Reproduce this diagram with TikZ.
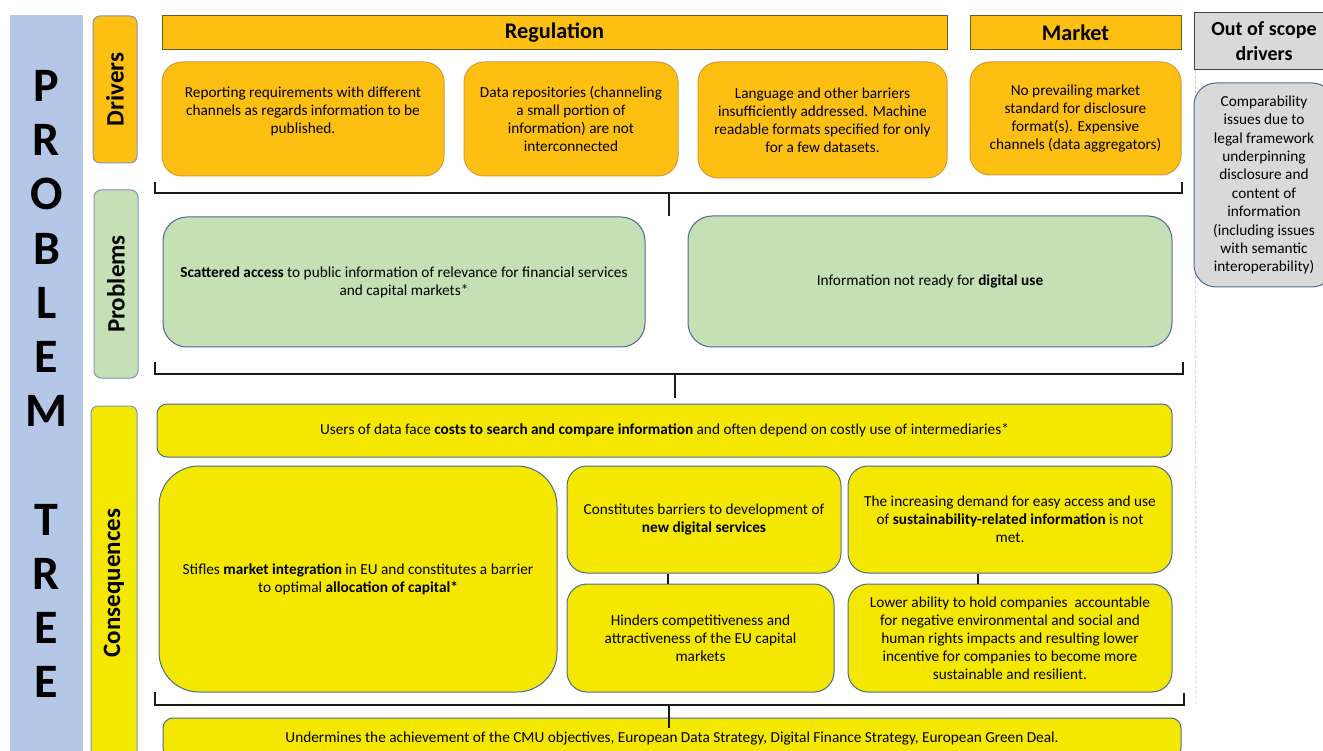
\documentclass[tikz,border=0pt]{standalone}
\usepackage{fontspec}
\setmainfont{Carlito}
\usetikzlibrary{positioning}

\definecolor{bandblue}{HTML}{B4C7E7}
\definecolor{drvorange}{HTML}{FDC012}
\definecolor{drvedge}{HTML}{D49A3A}
\definecolor{hdredge}{HTML}{6E5A22}
\definecolor{probgreen}{HTML}{C5E0B4}
\definecolor{consyellow}{HTML}{F5E800}
\definecolor{boxedge}{HTML}{4A6B94}
\definecolor{lbledge}{HTML}{8497B0}
\definecolor{scopegray}{HTML}{D9D9D9}
\definecolor{dotgray}{HTML}{C8C8C8}

\newcommand{\bodyfont}{\fontsize{15.3}{18}\selectfont}

\tikzset{
  hdr/.style={draw=hdredge, fill=drvorange, line width=1pt, inner sep=0pt,
    font=\fontsize{22.3}{24}\selectfont\bfseries},
  sidelbl/.style={draw=lbledge, fill=#1, line width=1pt, rounded corners=7pt,
    rotate=90, inner sep=0pt, font=\fontsize{25}{28}\selectfont\bfseries},
  drvbox/.style={draw=drvedge, fill=drvorange, line width=1pt, rounded corners=20pt,
    align=center, inner sep=0pt, font=\bodyfont},
  probbox/.style={draw=boxedge, fill=probgreen, line width=1pt, rounded corners=24pt,
    align=center, inner sep=0pt, font=\bodyfont},
  consbox/.style={draw=boxedge, fill=consyellow, line width=1pt, rounded corners=#1,
    align=center, inner sep=0pt, font=\bodyfont},
  bracket/.style={draw=black!90, line width=2.3pt},
  link/.style={draw=black!90, line width=2pt},
}

\begin{document}
\begin{tikzpicture}[x=1pt,y=-1pt]
\useasboundingbox (0,0) rectangle (1323,751);

% left band
\fill[bandblue] (10,15) rectangle (83,751);
\node[font=\fontsize{48}{54.2}\selectfont\bfseries, align=center, inner sep=0pt] (title) at (46.5,384)
  {P\\R\\O\\B\\L\\E\\M\\[54.2pt]T\\R\\E\\E};

% row labels
\node[sidelbl=drvorange, minimum width=147pt, minimum height=44pt] (lbldrv) at (115,89.5) {Drivers};
\node[sidelbl=probgreen, minimum width=188pt, minimum height=44pt] (lblprob) at (116,284) {Problems};
\node[sidelbl=consyellow, minimum width=354pt, minimum height=46pt] (lblcons) at (114,583) {Consequences};

% headers
\node[hdr, minimum width=785pt, minimum height=34pt] (reg) at (554.5,33) {Regulation};
\node[hdr, minimum width=211pt, minimum height=34pt] (mkt) at (1075.5,33) {Market};
\node[draw=black!75, fill=scopegray, line width=1pt, minimum width=140pt, minimum height=57pt,
  align=center, inner sep=0pt, font=\fontsize{20}{25}\selectfont\bfseries] (scope) at (1264,41.5)
  {Out of scope\\drivers};

% out of scope column
\draw[dotgray, densely dashed, line width=0.8pt] (scope.south west) ++(2,0) -- (1196,705);
\node[draw=boxedge, fill=scopegray, line width=1pt, rounded corners=22pt, minimum width=140pt,
  minimum height=204pt, align=center, inner sep=0pt, font=\fontsize{15.3}{18.4}\selectfont]
  (compar) at (1264,185)
  {Comparability\\issues due to\\legal framework\\underpinning\\disclosure and\\content of\\information\\(including issues\\with semantic\\interoperability)};

% drivers
\node[drvbox, minimum width=282pt, minimum height=114pt] (d1) at (303,119)
  {Reporting requirements with different\\channels as regards information to be\\published.\\~};
\node[drvbox, minimum width=214pt, minimum height=114pt] (d2) at (571,119)
  {Data repositories (channeling\\a small portion of\\information) are not\\interconnected};
\node[drvbox, minimum width=249pt, minimum height=116pt] (d3) at (822.5,120)
  {Language and other barriers\\insufficiently addressed. Machine\\readable formats specified for only\\for a few datasets.};
\node[drvbox, minimum width=211pt, minimum height=113pt] (d4) at (1075.5,118.5)
  {No prevailing market\\standard for disclosure\\format(s). Expensive\\channels (data aggregators)};

% bracket drivers -> problems
\coordinate (brA) at (669,193);
\coordinate (brAend) at (669,216);
\draw[bracket] (155,182) -- (155,193) -- (1182,193) -- (1182,182);
\draw[bracket] (brA) -- (brAend);

% problems
\node[probbox, minimum width=482pt, minimum height=130pt] (p1) at (404,282)
  {\textbf{Scattered access} to public information of relevance for financial services\\and capital markets*};
\node[probbox, minimum width=484pt, minimum height=131pt] (p2) at (930,281.5)
  {Information not ready for \textbf{digital use}};

% bracket problems -> consequences
\coordinate (brB) at (675,374);
\coordinate (brBend) at (675,398);
\draw[bracket] (155,362) -- (155,374) -- (1183,374) -- (1183,362);
\draw[bracket] (brB) -- (brBend);

% consequences
\node[consbox=10pt, minimum width=1015pt, minimum height=53pt] (c0) at (664.5,430.5)
  {Users of data face \textbf{costs to search and compare information} and often depend on costly use of intermediaries*};
\node[consbox=40pt, minimum width=398pt, minimum height=226pt] (c1) at (358,579)
  {Stifles \textbf{market integration} in EU and constitutes a barrier\\to optimal \textbf{allocation of capital*}};
\node[consbox=20pt, minimum width=274pt, minimum height=107pt] (c2) at (704,519.5)
  {Constitutes barriers to development of\\\textbf{new digital services}};
\node[consbox=20pt, minimum width=324pt, minimum height=107pt] (c3) at (1010,519.5)
  {The increasing demand for easy access and use\\of \textbf{sustainability-related information} is not\\met.};
\node[consbox=20pt, minimum width=267pt, minimum height=108pt] (c4) at (700.5,638)
  {Hinders competitiveness and\\attractiveness of the EU capital\\markets};
\node[consbox=20pt, minimum width=324pt, minimum height=108pt] (c5) at (1010,638)
  {Lower ability to hold companies\ \ accountable\\for negative environmental and social and\\human rights impacts and resulting lower\\incentive for companies to become more\\sustainable and resilient.};

\coordinate (lnkA) at (668,0);
\coordinate (lnkB) at (978,0);
\draw[link] (c2.south -| lnkA) -- (c4.north -| lnkA);
\draw[link] (c3.south -| lnkB) -- (c5.north -| lnkB);

% bottom box
\node[consbox=10pt, minimum width=1018pt, minimum height=40pt] (c6) at (672,738)
  {Undermines the achievement of the CMU objectives, European Data Strategy, Digital Finance Strategy, European Green Deal.};

% bracket consequences -> objectives
\coordinate (brC) at (669,705);
\coordinate (brCend) at (669,728);
\draw[bracket] (155,692) -- (155,705) -- (1184,705) -- (1184,693);
\draw[bracket] (brC) -- (brCend);

\end{tikzpicture}
\end{document}
